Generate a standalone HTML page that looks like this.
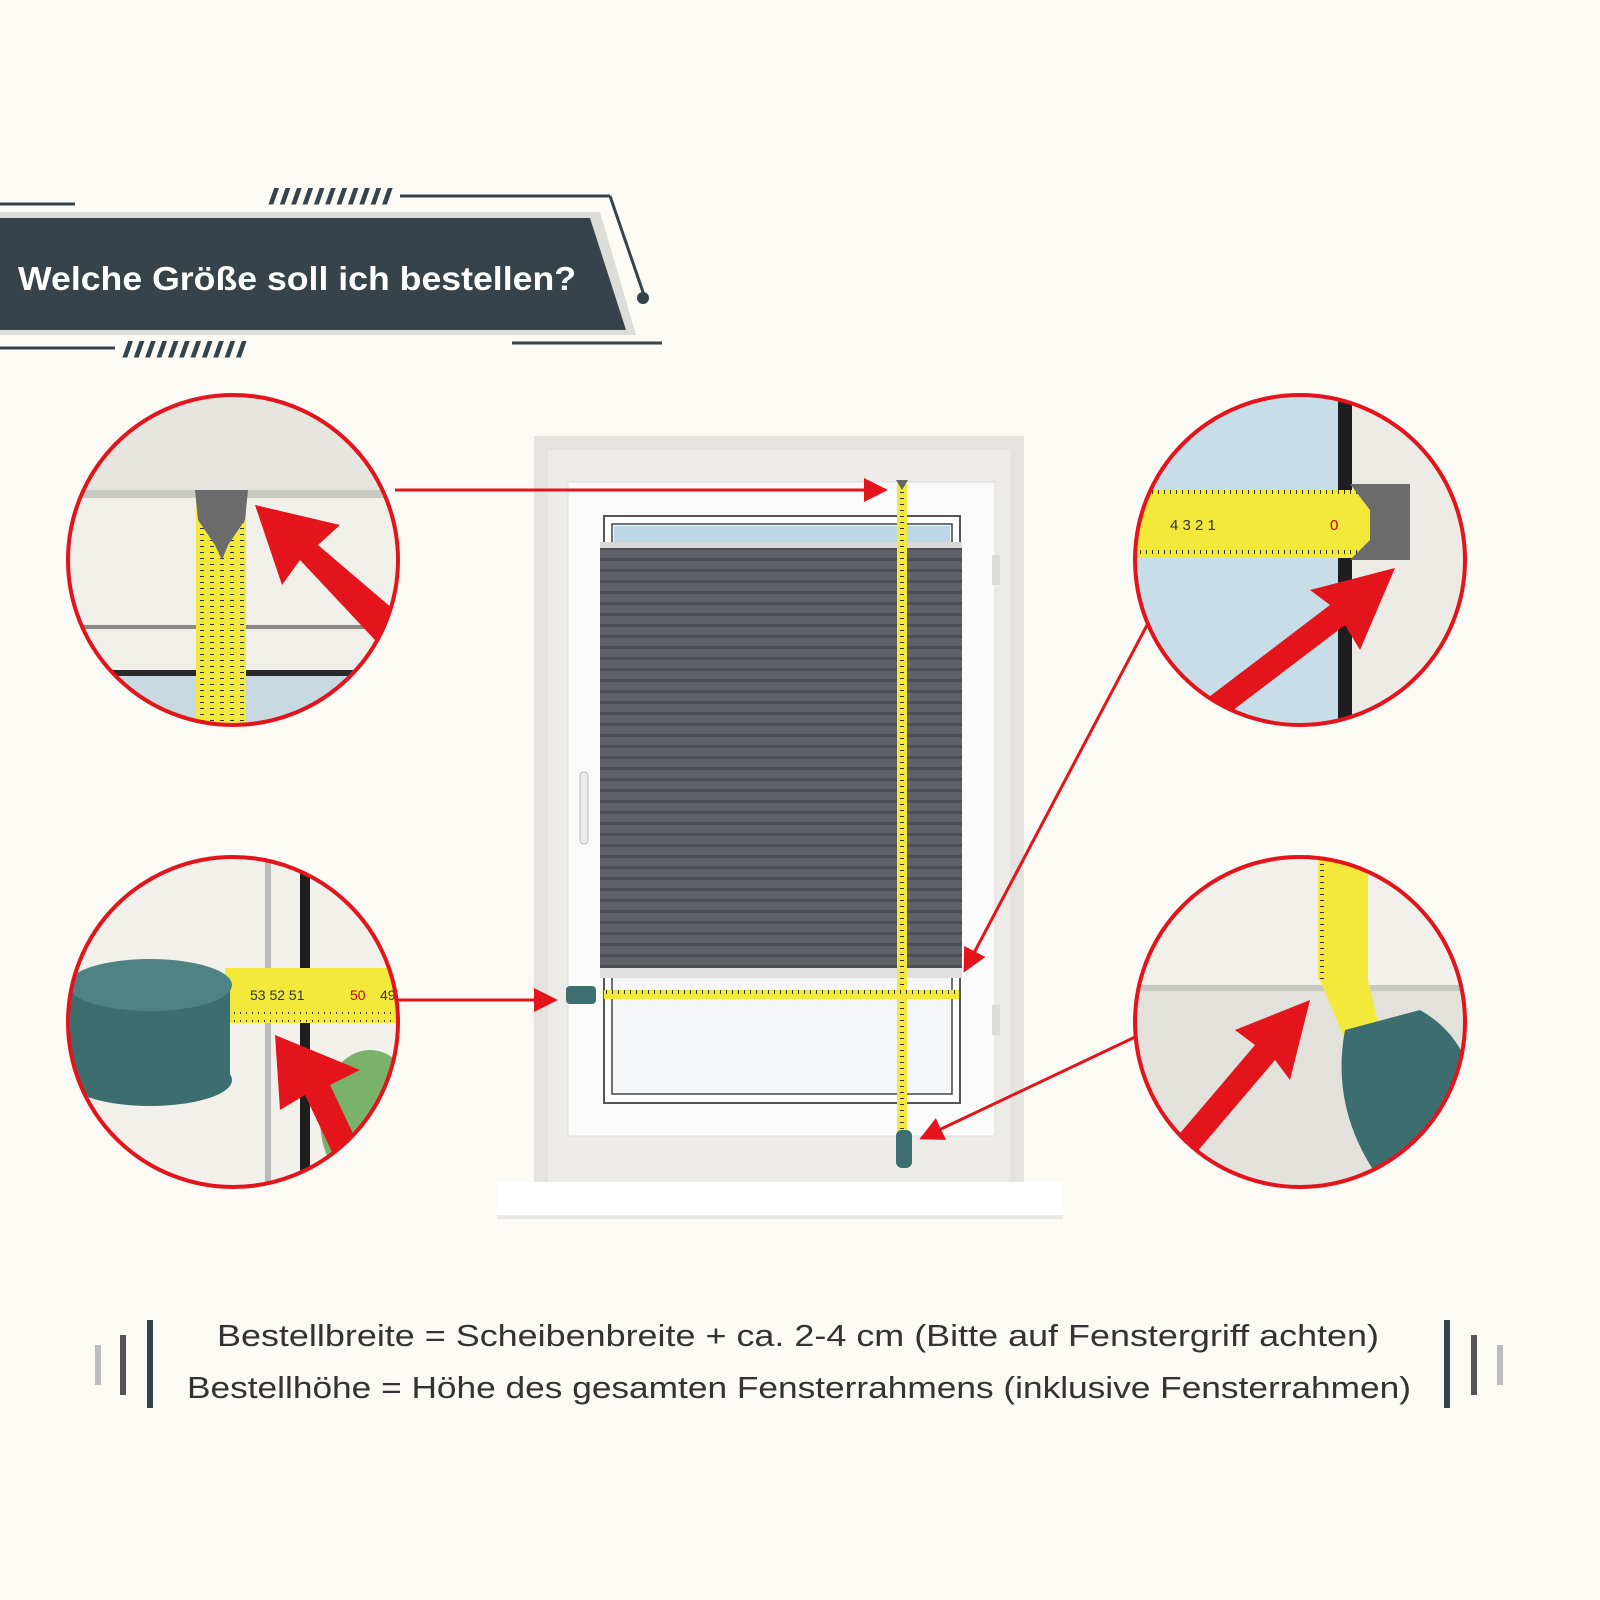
<!DOCTYPE html>
<html><head><meta charset="utf-8"><style>
html,body{margin:0;padding:0;background:#fbfaf5;}
svg{display:block}
text{font-family:"Liberation Sans","DejaVu Sans",sans-serif}
</style></head><body>
<svg width="1600" height="1600" viewBox="0 0 1600 1600" xmlns="http://www.w3.org/2000/svg">
<defs>
<pattern id="pleat" width="10" height="11" patternUnits="userSpaceOnUse">
<rect width="10" height="11" fill="#5f6166"/><rect y="8" width="10" height="3" fill="#4c4e53"/>
</pattern>
<pattern id="ticks" width="6" height="10" patternUnits="userSpaceOnUse">
<rect width="6" height="10" fill="#f3e93a"/><rect width="1" height="4" fill="#333"/>
</pattern>
<pattern id="ticksv" width="10" height="6" patternUnits="userSpaceOnUse">
<rect width="10" height="6" fill="#f3e93a"/><rect width="4" height="1" fill="#333"/>
</pattern>
<clipPath id="c1"><circle cx="233" cy="560" r="165"/></clipPath>
<clipPath id="c2"><circle cx="1300" cy="560" r="165"/></clipPath>
<clipPath id="c3"><circle cx="233" cy="1022" r="165"/></clipPath>
<clipPath id="c4"><circle cx="1300" cy="1022" r="165"/></clipPath>
<marker id="ah" markerWidth="8" markerHeight="8" refX="7" refY="4" orient="auto" markerUnits="strokeWidth"><path d="M0,0 L8,4 L0,8 Z" fill="#e3141b"/></marker>
</defs>
<rect width="1600" height="1600" fill="#fbfaf5"/>

<!-- header -->
<line x1="0" y1="204" x2="75" y2="204" stroke="#37434a" stroke-width="3"/>
<line x1="400" y1="196" x2="610" y2="196" stroke="#37434a" stroke-width="3"/>
<line x1="610" y1="196" x2="645" y2="298" stroke="#37434a" stroke-width="3"/>
<circle cx="643" cy="298" r="6" fill="#37434a"/>
<text x="268" y="204" font-size="22" fill="#37434a" font-weight="bold" textLength="125" lengthAdjust="spacingAndGlyphs">///////////</text>
<polygon points="0,212 600,212 636,335 0,335" fill="#dcdcd8"/>
<polygon points="0,218 590,218 626,330 0,330" fill="#37434a"/>
<text x="18" y="290" font-size="33" font-weight="bold" fill="#fff" textLength="558" lengthAdjust="spacingAndGlyphs">Welche Größe soll ich bestellen?</text>
<line x1="0" y1="348" x2="115" y2="348" stroke="#37434a" stroke-width="3"/>
<line x1="512" y1="343" x2="662" y2="343" stroke="#37434a" stroke-width="3"/>
<text x="122" y="357" font-size="22" fill="#37434a" font-weight="bold" textLength="125" lengthAdjust="spacingAndGlyphs">///////////</text>

<!-- window -->
<rect x="534" y="436" width="490" height="750" fill="#e4e3df"/>
<rect x="548" y="450" width="462" height="735" fill="#ecebe7"/>
<rect x="568" y="482" width="427" height="654" fill="#fafafa" stroke="#ddd"/>
<rect x="604" y="516" width="356" height="587" fill="#fff" stroke="#555" stroke-width="2"/>
<rect x="612" y="524" width="340" height="570" fill="#f5f6f7" stroke="#444" stroke-width="1.5"/>
<rect x="614" y="526" width="336" height="20" fill="#bcd7e5"/>
<rect x="600" y="542" width="362" height="8" fill="#d8d8d8"/>
<rect x="600" y="548" width="362" height="422" fill="url(#pleat)"/>
<rect x="600" y="968" width="362" height="10" fill="#e0e0e0"/>
<rect x="580" y="772" width="8" height="72" rx="4" fill="#eee" stroke="#bbb"/>
<rect x="992" y="555" width="8" height="30" fill="#ddd"/>
<rect x="992" y="1005" width="8" height="30" fill="#ddd"/>
<rect x="497" y="1182" width="566" height="36" fill="#fff"/>
<rect x="497" y="1215" width="566" height="4" fill="#e8e8e4"/>

<!-- tapes on window -->
<rect x="897" y="484" width="10" height="650" fill="url(#ticksv)"/>
<polygon points="896,480 908,480 902,490" fill="#666"/>
<rect x="604" y="990" width="355" height="9" fill="url(#ticks)"/>
<rect x="566" y="986" width="30" height="18" rx="4" fill="#3e6f70"/>
<rect x="896" y="1130" width="16" height="38" rx="6" fill="#3e6f70"/>

<!-- arrows from circles -->
<g stroke="#e3141b" stroke-width="3" fill="none">
<line x1="395" y1="490" x2="885" y2="490" marker-end="url(#ah)"/>
<line x1="1155" y1="610" x2="965" y2="970" marker-end="url(#ah)"/>
<line x1="398" y1="1000" x2="555" y2="1000" marker-end="url(#ah)"/>
<line x1="1150" y1="1030" x2="922" y2="1138" marker-end="url(#ah)"/>
</g>

<!-- circle 1 -->
<g clip-path="url(#c1)">
<rect x="60" y="390" width="350" height="340" fill="#f0efea"/>
<rect x="60" y="390" width="350" height="100" fill="#e6e5e0"/>
<rect x="60" y="490" width="350" height="8" fill="#c9c9c4"/>
<rect x="60" y="625" width="350" height="4" fill="#888"/>
<rect x="60" y="670" width="350" height="6" fill="#2a2a2a"/>
<rect x="60" y="676" width="350" height="60" fill="#c8d9e2"/>
<rect x="196" y="490" width="50" height="250" fill="url(#ticksv)"/>
<polygon points="195,490 248,490 245,520 228,545 222,560 215,545 198,520" fill="#6b6b6b"/>
<polygon points="255,505 340,525 318,545 400,615 375,640 300,560 282,585" fill="#e3141b"/>
</g>
<circle cx="233" cy="560" r="165" fill="none" stroke="#e3141b" stroke-width="4"/>

<!-- circle 2 -->
<g clip-path="url(#c2)">
<rect x="1130" y="390" width="350" height="340" fill="#c7dde8"/>
<rect x="1340" y="390" width="140" height="340" fill="#eceae5"/>
<rect x="1338" y="390" width="14" height="340" fill="#1e1e1e"/>
<rect x="1130" y="490" width="250" height="68" fill="#f3e93a"/>
<rect x="1130" y="490" width="250" height="10" fill="url(#ticks)"/>
<rect x="1130" y="548" width="250" height="10" fill="url(#ticks)"/>
<text x="1170" y="530" font-size="15" fill="#333" font-family="Liberation Serif">4    3    2    1    </text>
<text x="1330" y="530" font-size="15" fill="#c00" font-family="Liberation Serif">0</text>
<polygon points="1350,484 1410,484 1410,560 1350,560 1370,540 1370,510" fill="#6b6b6b"/>
<polygon points="1395,568 1360,650 1345,625 1220,720 1205,700 1330,605 1310,590" fill="#e3141b"/>
</g>
<circle cx="1300" cy="560" r="165" fill="none" stroke="#e3141b" stroke-width="4"/>

<!-- circle 3 -->
<g clip-path="url(#c3)">
<rect x="60" y="850" width="350" height="345" fill="#f1f0eb"/>
<rect x="265" y="850" width="6" height="345" fill="#bbb"/>
<rect x="300" y="850" width="10" height="345" fill="#1e1e1e"/>
<ellipse cx="370" cy="1120" rx="50" ry="70" fill="#7ab26a"/>
<rect x="225" y="968" width="180" height="55" fill="#f3e93a"/>
<text x="250" y="1000" font-size="14" fill="#333" font-family="Liberation Serif">53  52  51 </text>
<text x="350" y="1000" font-size="14" fill="#c00" font-family="Liberation Serif">50</text>
<text x="380" y="1000" font-size="14" fill="#333" font-family="Liberation Serif">49</text>
<rect x="225" y="1012" width="180" height="10" fill="url(#ticks)"/>
<rect x="60" y="980" width="170" height="100" fill="#3d6e6f"/>
<ellipse cx="150" cy="1080" rx="82" ry="26" fill="#3d6e6f"/>
<ellipse cx="150" cy="985" rx="82" ry="26" fill="#4f8282"/>
<polygon points="275,1035 360,1070 330,1085 375,1180 350,1190 305,1095 280,1110" fill="#e3141b"/>
</g>
<circle cx="233" cy="1022" r="165" fill="none" stroke="#e3141b" stroke-width="4"/>

<!-- circle 4 -->
<g clip-path="url(#c4)">
<rect x="1130" y="850" width="350" height="345" fill="#f1f0eb"/>
<rect x="1130" y="990" width="350" height="205" fill="#e2e1dc"/>
<rect x="1130" y="985" width="350" height="6" fill="#c8c8c3"/>
<rect x="1318" y="850" width="50" height="130" fill="#f3e93a"/>
<rect x="1318" y="850" width="10" height="130" fill="url(#ticksv)"/>
<polygon points="1320,980 1368,980 1380,1030 1345,1040" fill="#f3e93a"/>
<path d="M1345,1030 L1420,1010 Q1490,1050 1470,1150 L1380,1180 Q1330,1110 1345,1030 Z" fill="#3d6e6f"/>
<polygon points="1310,1000 1290,1080 1275,1060 1190,1160 1170,1145 1255,1045 1235,1030" fill="#e3141b"/>
</g>
<circle cx="1300" cy="1022" r="165" fill="none" stroke="#e3141b" stroke-width="4"/>

<!-- bottom text -->
<rect x="95" y="1345" width="6" height="40" fill="#bdbdbd"/>
<rect x="120" y="1335" width="6" height="60" fill="#555"/>
<rect x="147" y="1320" width="6" height="88" fill="#37434a"/>
<rect x="1444" y="1320" width="6" height="88" fill="#37434a"/>
<rect x="1471" y="1335" width="6" height="60" fill="#555"/>
<rect x="1497" y="1345" width="6" height="40" fill="#bdbdbd"/>
<text x="217" y="1346" font-size="31" fill="#333" textLength="1162" lengthAdjust="spacingAndGlyphs">Bestellbreite = Scheibenbreite + ca. 2-4 cm (Bitte auf Fenstergriff achten)</text>
<text x="187" y="1398" font-size="31" fill="#333" textLength="1224" lengthAdjust="spacingAndGlyphs">Bestellhöhe = Höhe des gesamten Fensterrahmens (inklusive Fensterrahmen)</text>
</svg>
</body></html>
